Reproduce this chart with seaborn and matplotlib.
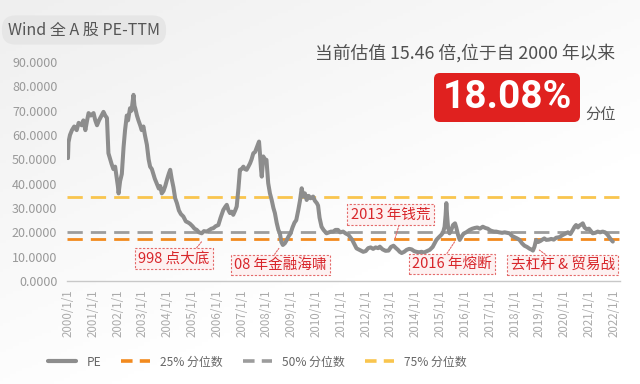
import numpy as np
import pandas as pd
import matplotlib
matplotlib.use("Agg")
import matplotlib.pyplot as plt
import seaborn as sns
from matplotlib.patches import FancyBboxPatch
from matplotlib.lines import Line2D

# ---------------- data ----------------
pe_time = [
    2000.00, 2000.02, 2000.08, 2000.16, 2000.25, 2000.35, 2000.43, 2000.55, 2000.62, 2000.70,
    2000.77, 2000.83, 2000.92, 2001.03, 2001.10, 2001.17, 2001.25, 2001.35, 2001.43, 2001.50,
    2001.57, 2001.60, 2001.63, 2001.70, 2001.76, 2001.83, 2001.90, 2001.97, 2002.01, 2002.04,
    2002.10, 2002.17, 2002.21, 2002.24, 2002.30, 2002.37, 2002.42, 2002.50, 2002.56, 2002.64,
    2002.68, 2002.71, 2002.78, 2002.84, 2002.91, 2002.97, 2003.04, 2003.10, 2003.18, 2003.25,
    2003.31, 2003.38, 2003.44, 2003.50, 2003.58, 2003.66, 2003.72, 2003.78, 2003.85, 2003.92,
    2004.00, 2004.06, 2004.12, 2004.18, 2004.25, 2004.32, 2004.39, 2004.47, 2004.55, 2004.65,
    2004.75, 2004.85, 2004.92, 2005.02, 2005.10, 2005.19, 2005.28, 2005.39, 2005.48, 2005.59,
    2005.70, 2005.78, 2005.86, 2005.95, 2006.06, 2006.15, 2006.26, 2006.34, 2006.40, 2006.47,
    2006.53, 2006.60, 2006.66, 2006.74, 2006.80, 2006.87, 2006.93, 2007.00, 2007.07, 2007.13,
    2007.20, 2007.27, 2007.34, 2007.40, 2007.47, 2007.54, 2007.60, 2007.65, 2007.70, 2007.74,
    2007.78, 2007.81, 2007.85, 2007.87, 2007.93, 2008.00, 2008.04, 2008.07, 2008.14, 2008.21,
    2008.28, 2008.34, 2008.41, 2008.48, 2008.54, 2008.60, 2008.66, 2008.74, 2008.82, 2008.90,
    2008.97, 2009.05, 2009.13, 2009.20, 2009.28, 2009.35, 2009.42, 2009.48, 2009.55, 2009.62,
    2009.70, 2009.78, 2009.88, 2009.95, 2010.03, 2010.08, 2010.14, 2010.22, 2010.30, 2010.42,
    2010.52, 2010.60, 2010.69, 2010.78, 2010.88, 2010.97, 2011.09, 2011.20, 2011.30, 2011.36,
    2011.45, 2011.55, 2011.63, 2011.75, 2011.90, 2012.00, 2012.10, 2012.20, 2012.30, 2012.40,
    2012.50, 2012.57, 2012.68, 2012.80, 2012.92, 2013.02, 2013.12, 2013.22, 2013.30, 2013.37,
    2013.45, 2013.55, 2013.65, 2013.75, 2013.85, 2013.95, 2014.04, 2014.15, 2014.25, 2014.35,
    2014.45, 2014.58, 2014.70, 2014.78, 2014.85, 2014.95, 2015.05, 2015.12, 2015.18, 2015.22,
    2015.25, 2015.28, 2015.32, 2015.38, 2015.45, 2015.52, 2015.60, 2015.65, 2015.72, 2015.79,
    2015.88, 2015.95, 2016.05, 2016.12, 2016.19, 2016.30, 2016.40, 2016.50, 2016.60, 2016.72,
    2016.82, 2016.92, 2017.02, 2017.10, 2017.18, 2017.26, 2017.38, 2017.50, 2017.60, 2017.70,
    2017.80, 2017.90, 2018.00, 2018.10, 2018.20, 2018.30, 2018.40, 2018.50, 2018.60, 2018.70,
    2018.74, 2018.80, 2018.87, 2018.95, 2019.05, 2019.12, 2019.20, 2019.28, 2019.38, 2019.48,
    2019.58, 2019.68, 2019.80, 2019.94, 2020.05, 2020.15, 2020.25, 2020.35, 2020.42, 2020.48,
    2020.55, 2020.62, 2020.70, 2020.75, 2020.82, 2020.90, 2021.00, 2021.08, 2021.15, 2021.25,
    2021.35, 2021.45, 2021.55, 2021.65, 2021.75, 2021.85, 2021.96,
]
pe_values = [
    50.5, 57.0, 60.0, 62.0, 63.5, 62.0, 65.0, 64.0, 66.0, 62.0,
    66.0, 69.0, 68.0, 69.0, 66.0, 64.0, 66.0, 68.0, 69.5, 68.0,
    67.0, 60.0, 52.5, 50.0, 48.0, 46.0, 47.0, 42.0, 39.0, 36.0,
    41.0, 44.0, 50.0, 55.0, 62.0, 68.0, 66.0, 71.0, 70.0, 76.5,
    72.0, 71.0, 68.0, 66.0, 64.0, 62.0, 63.5, 60.0, 56.0, 50.0,
    47.0, 46.0, 44.0, 42.0, 40.0, 38.0, 39.0, 36.0, 37.0, 39.0,
    42.0, 44.0, 45.7, 42.0, 38.5, 34.0, 32.0, 29.0, 27.5, 26.5,
    24.5, 24.0, 23.5, 22.5, 21.5, 21.0, 20.0, 19.6, 20.5, 20.3,
    21.0, 21.5, 21.7, 22.5, 23.0, 26.0, 29.2, 30.5, 31.3, 29.0,
    27.9, 28.5, 27.2, 29.0, 30.6, 38.0, 45.7, 46.0, 47.0, 46.0,
    45.7, 47.0, 48.4, 50.0, 52.5, 53.0, 54.6, 56.0, 57.3, 52.0,
    46.0, 42.9, 48.0, 51.2, 50.0, 49.8, 44.0, 40.2, 36.0, 33.3,
    30.0, 27.9, 24.0, 21.0, 19.6, 16.0, 14.8, 15.5, 16.9, 18.5,
    19.5, 22.0, 24.0, 25.0, 29.0, 33.0, 38.1, 34.7, 36.0, 33.3,
    35.0, 34.0, 34.7, 33.0, 32.0, 31.0, 26.0, 22.3, 21.0, 19.6,
    20.0, 20.3, 20.3, 21.0, 21.0, 20.0, 20.3, 19.5, 19.0, 18.2,
    17.0, 15.0, 13.4, 12.8, 12.0, 12.3, 13.5, 13.8, 13.2, 13.8,
    13.5, 14.1, 13.0, 12.4, 12.5, 14.0, 14.5, 13.5, 12.8, 12.0,
    11.5, 12.0, 12.8, 13.2, 13.0, 12.3, 12.0, 11.8, 12.0, 11.7,
    12.2, 12.8, 14.0, 15.5, 16.9, 18.0, 19.0, 20.0, 22.3, 27.0,
    32.0, 27.0, 22.0, 19.6, 21.0, 23.0, 23.7, 22.0, 19.0, 16.9,
    18.5, 19.5, 20.0, 20.5, 21.0, 21.5, 21.8, 22.0, 21.5, 22.3,
    21.8, 21.5, 20.8, 20.5, 20.3, 20.3, 20.0, 19.8, 20.0, 19.8,
    19.6, 18.5, 18.0, 17.5, 16.9, 15.5, 14.5, 14.0, 13.3, 12.8,
    12.5, 14.0, 16.9, 16.0, 16.5, 17.0, 17.5, 16.9, 17.0, 17.3,
    17.0, 17.8, 18.0, 18.9, 19.5, 20.0, 19.3, 21.0, 22.3, 23.0,
    22.0, 22.8, 23.3, 23.7, 22.0, 21.3, 21.5, 20.5, 19.6, 19.8,
    20.3, 20.0, 20.3, 20.0, 19.0, 17.5, 16.2,
]
tick_years = list(range(2000, 2023))
tick_labels = [f"{y}/1/1" for y in tick_years]
y_ticks = [0, 10, 20, 30, 40, 50, 60, 70, 80, 90]
q25_value = 17.2
q50_value = 20.3
q75_value = 34.6
current_pe = 15.46
current_pct = 18.08
event_labels = ["998 点大底", "08 年金融海啸", "2013 年钱荒", "2016 年熔断", "去杠杆 & 贸易战"]

# ---------------- style ----------------
sns.set_theme(style="white")
plt.rcParams['font.family'] = ['Noto Sans CJK SC', 'DejaVu Sans']
plt.rcParams['axes.unicode_minus'] = False

C_PE = "#8d8d8d"
C_25 = "#f28a1e"
C_50 = "#9c9c9c"
C_75 = "#f9c54e"
C_RED = "#d8262b"

fig = plt.figure(figsize=(6.4, 3.84), dpi=100)

# background gradient
bg = fig.add_axes([0, 0, 1, 1], zorder=-10)
gx, gy = np.meshgrid(np.linspace(0, 1, 200), np.linspace(1, 0, 120))
grad = np.clip((1 - gx) * 0.55 + (1 - gy) * 0.75 - 0.45, 0, 1)
bg.imshow(grad, extent=[0, 1, 0, 1], origin="lower", aspect="auto",
          cmap=matplotlib.colors.LinearSegmentedColormap.from_list("g", ["#ffffff", "#efefef"]),
          vmin=0, vmax=0.85)
bg.axis("off")

ax = fig.add_axes([67 / 640, 1 - 281 / 384, 553 / 640, 219 / 384])
ax.set_facecolor("none")

df = pd.DataFrame({"t": pe_time, "PE": pe_values})
sns.lineplot(data=df, x="t", y="PE", ax=ax, color=C_PE, linewidth=2.9, zorder=3,
             solid_joinstyle="round")

dash = (5.5, 2.9)
for val, col in [(q75_value, C_75), (q50_value, C_50), (q25_value, C_25)]:
    ax.axhline(val, color=col, linewidth=2.0, dashes=dash, zorder=2)

ax.set_xlim(1999.96, 2022.25)
ax.set_ylim(0, 90)
ax.set_xticks(tick_years)
ax.set_xticklabels(tick_labels, rotation=90, fontsize=8.3, color="#ababab")
ax.set_yticks(y_ticks)
ax.set_yticklabels([f"{v:.4f}" for v in y_ticks], fontsize=9, color="#999999")
ax.tick_params(axis="y", length=0, pad=7)
ax.tick_params(axis="x", length=4, width=1, color="#c8c8c8", pad=2, direction="out")
ax.set_xlabel("")
ax.set_ylabel("")
for s in ["top", "right", "left"]:
    ax.spines[s].set_visible(False)
ax.spines["bottom"].set_color("#c8c8c8")
ax.spines["bottom"].set_linewidth(1)

# annotations
ann = [
    (event_labels[0], (2005.39, 16.2), (2004.26, 9.3), (0.78, 1)),
    (event_labels[1], (2008.50, 13.4), (2008.56, 6.6), (0.41, 1)),
    (event_labels[2], (2013.17, 17.0), (2013.00, 27.3), (0.62, 0)),
    (event_labels[3], (2015.59, 16.2), (2015.47, 7.0), (0.41, 1)),
    (event_labels[4], (2019.00, 12.7), (2019.94, 6.6), (0.38, 1)),
]
for text, xy, xytext, rp in ann:
    ax.annotate(text, xy=xy, xytext=xytext, textcoords="data", ha="center", va="center",
                fontsize=10.5, color=C_RED, fontweight="medium", zorder=5,
                bbox=dict(boxstyle="square,pad=0.22", facecolor="#fdf1f1", edgecolor="#e46a6a",
                          linestyle=(0, (2, 1.5)), linewidth=0.8),
                arrowprops=dict(arrowstyle="-", color="#e46a6a", linestyle=(0, (1.5, 1.2)),
                                linewidth=0.8, relpos=rp, shrinkA=0, shrinkB=0))

# title pill
fig.text(8 / 640, 1 - 30 / 384, "Wind 全 A 股 PE-TTM", fontsize=11.5, color="#555555",
         ha="left", va="center",
         bbox=dict(boxstyle="round,pad=0.38,rounding_size=0.85", facecolor="#e6e6e6", edgecolor="none"))

# top-right description
fig.text(615 / 640, 1 - 53.5 / 384, f"当前估值 {current_pe} 倍,位于自 2000 年以来", fontsize=12.8,
         color="#505050", ha="right", va="center")

# red percentile box
box = FancyBboxPatch((4.34, (384 - 122) / 100), 1.46, 0.49,
                     boxstyle="round,pad=0,rounding_size=0.06",
                     transform=fig.dpi_scale_trans, facecolor="#e0211f", edgecolor="none")
fig.add_artist(box)
fig.text((434 + 73) / 640, 1 - 98 / 384, f"{current_pct:.2f}%", fontsize=28, fontweight="bold",
         family=["Roboto", "DejaVu Sans"], color="white", ha="center", va="center")
fig.text(585 / 640, 1 - 115 / 384, "分位", fontsize=11, color="#555555", ha="left", va="center")

# legend
handles = [
    Line2D([], [], color=C_PE, linewidth=3.0, solid_capstyle="round"),
    Line2D([], [], color=C_25, linewidth=2.6, dashes=(3.2, 2.0)),
    Line2D([], [], color=C_50, linewidth=2.6, dashes=(3.2, 2.0)),
    Line2D([], [], color=C_75, linewidth=2.6, dashes=(3.2, 2.0)),
]
labels = ["PE", "25% 分位数", "50% 分位数", "75% 分位数"]
leg = fig.legend(handles, labels, loc="center", bbox_to_anchor=(257 / 640, 1 - 362 / 384),
                 ncol=4, frameon=False, fontsize=8.6, handlelength=2.4, handletextpad=0.85,
                 columnspacing=1.7)
for t in leg.get_texts():
    t.set_color("#666666")

fig.savefig("out.png", dpi=100)
